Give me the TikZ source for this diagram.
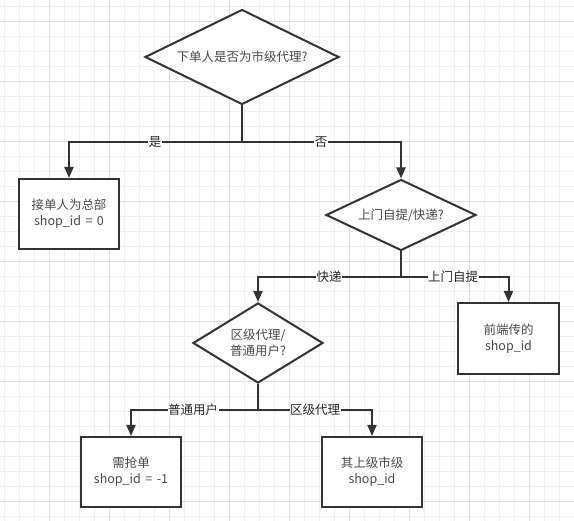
\documentclass[tikz,border=0pt]{standalone}
\usepackage{fontspec}
\setmainfont[WordSpace=1.6]{Noto Sans CJK SC}
\usetikzlibrary{shapes.geometric,arrows.meta}
\definecolor{ln}{HTML}{333333}
\definecolor{txt}{HTML}{4A4A4A}
\definecolor{gridminor}{HTML}{F0F0F0}
\definecolor{gridmajor}{HTML}{E0E0E0}
\tikzset{
  conn/.style={draw=ln, line width=2pt},
  arr/.style={conn, -{Triangle[length=11pt,width=9pt]}},
  boxnode/.style={draw=ln, line width=2pt, fill=white, minimum width=100pt, minimum height=70pt, inner sep=0pt, align=center, text=txt, font=\fontsize{12.5}{16}\selectfont},
  dia/.style={diamond, draw=ln, line width=2pt, fill=white, inner sep=0pt, align=center, text=txt, font=\fontsize{12.5}{16}\selectfont},
  lbl/.style={fill=white, inner sep=0.5pt, text=black!85, font=\fontsize{12.5}{14}\selectfont},
}
\begin{document}
\begin{tikzpicture}[x=1pt,y=-1pt]
\useasboundingbox (0,0) rectangle (574,521);
\fill[white] (0,0) rectangle (574,521);
\foreach \x in {4,19,...,574} \draw[gridminor, line width=1pt] (\x,0) -- (\x,521);
\foreach \y in {7,22,...,521} \draw[gridminor, line width=1pt] (0,\y) -- (574,\y);
\foreach \x in {49,109,...,574} \draw[gridmajor, line width=1pt] (\x,0) -- (\x,521);
\foreach \y in {22,82,...,521} \draw[gridmajor, line width=1pt] (0,\y) -- (574,\y);

\node[dia, aspect=2, minimum width=194pt, minimum height=95pt] (d1) at (242,57) {下单人是否为市级代理?};
\node[boxnode] (b1) at (69,214) {接单人为总部\\shop\_id = 0};
\node[dia, aspect=2, minimum width=150pt, minimum height=71pt] (d2) at (401,215) {上门自提/快递?};
\node[boxnode, minimum width=101pt, minimum height=71pt] (b2) at (508.5,338.5) {前端传的\\shop\_id};
\node[dia, aspect=1.6, minimum width=130pt, minimum height=80pt] (d3) at (258,343) {区级代理/\\普通用户?};
\node[boxnode] (b3) at (131,472) {需抢单\\shop\_id = -1};
\node[boxnode] (b4) at (372,472) {其上级市级\\shop\_id};

\coordinate (j1) at (242,142);
\coordinate (j2) at (401,277);
\coordinate (j3) at (258,410);

\draw[conn] (d1.south) -- (j1);
\draw[arr] (j1) -| (b1.north);
\draw[arr] (j1) -| (d2.north);
\node[lbl] (l1) at (155,142) {是};
\node[lbl] (l2) at (321,142) {否};

\draw[conn] (d2.south) -- (j2);
\draw[arr] (j2) -| (d3.north);
\draw[arr] (j2) -| (b2.north);
\node[lbl] (l3) at (329,277) {快递};
\node[lbl] (l4) at (453,277) {上门自提};

\draw[conn] (d3.south) -- (j3);
\draw[arr] (j3) -| (b3.north);
\draw[arr] (j3) -| (b4.north);
\node[lbl] (l5) at (193,410) {普通用户};
\node[lbl] (l6) at (315,410) {区级代理};
\end{tikzpicture}
\end{document}
